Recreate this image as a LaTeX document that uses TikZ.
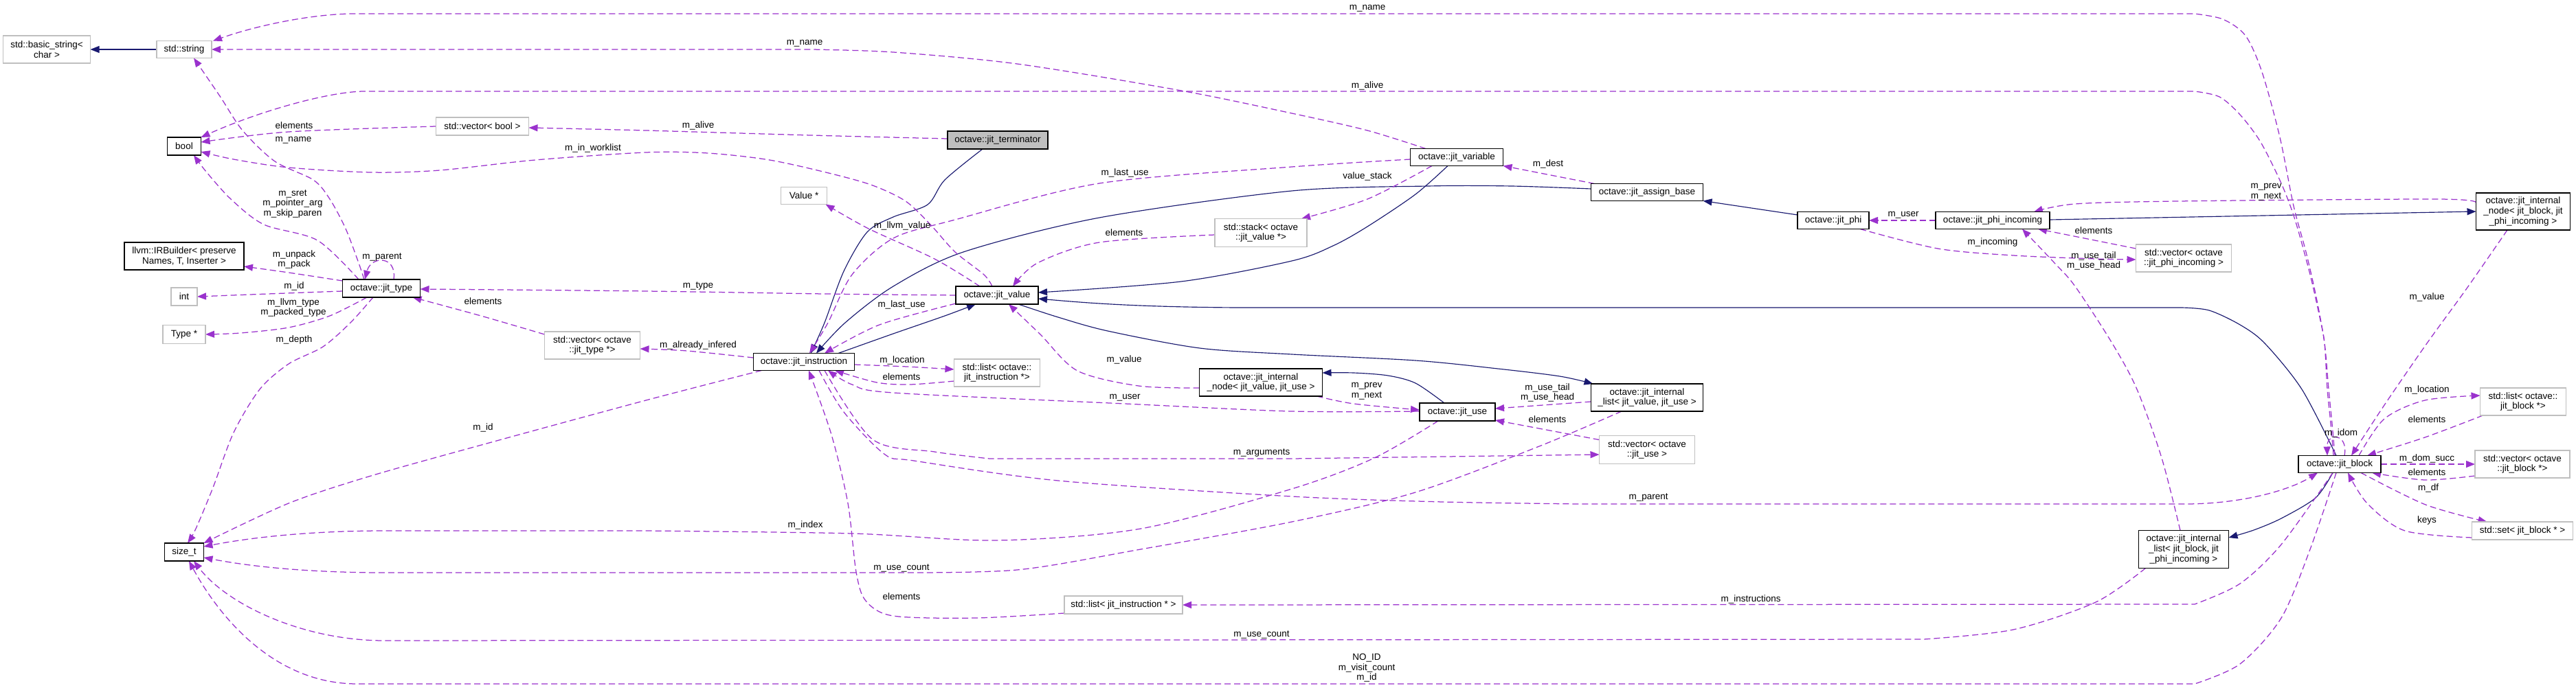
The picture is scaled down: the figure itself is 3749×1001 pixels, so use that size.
\documentclass[tikz,border=0pt]{standalone}
\usepackage{fontspec}
\setmainfont{Liberation Sans}
\usetikzlibrary{arrows.meta,calc}
\definecolor{depc}{HTML}{9A32CD}
\definecolor{inhc}{HTML}{191970}
\definecolor{greyb}{HTML}{BFBFBF}
\pgfdeclarelayer{edgelayer}
\pgfsetlayers{edgelayer,main}
\tikzset{
 every node/.style={font=\fontsize{13.5}{14.6}\selectfont, inner sep=0pt, outer sep=0pt, align=center},
 cls/.style 2 args={draw=black, line width=1.3pt, fill=white, minimum width=#1pt, minimum height=#2pt},
 ext/.style 2 args={draw=greyb, line width=1.3pt, fill=white, minimum width=#1pt, minimum height=#2pt},
 dep/.style={draw=depc, line width=1.25pt, dash pattern=on 9pt off 5pt, -{Triangle[length=13pt,width=10pt]}},
 inh/.style={draw=inhc, line width=1.15pt, -{Triangle[length=13pt,width=10pt]}},
}
\begin{document}
\begin{tikzpicture}[x=1pt,y=-1pt]
\useasboundingbox (0,0) rectangle (3749,1001);
% ---------- nodes ----------
\node[ext={127}{40}] (basicstr) at (68,72) {std::basic\_string<\\char >};
\node[ext={80}{25}] (stdstring) at (268,72) {std::string};
\node[cls={49}{26}] (bool) at (268,213) {bool};
\node[ext={135}{26}] (vecbool) at (702,184) {std::vector< bool >};
\node[cls={174}{40}] (irbuilder) at (268,373) {llvm::IRBuilder< preserve\\Names, T, Inserter >};
\node[ext={38}{26}] (int) at (268,432) {int};
\node[ext={62}{27}] (typeptr) at (268,487) {Type *};
\node[cls={113}{26}] (jittype) at (555,420) {octave::jit\_type};
\node[ext={139}{40}] (vecjittype) at (862,503) {std::vector< octave\\::jit\_type *>};
\node[cls={57}{26}] (sizet) at (268,804) {size\_t};
\node[cls={146}{26}, fill=greyb] (terminator) at (1452,204) {octave::jit\_terminator};
\node[ext={67}{25}] (valueptr) at (1170,285) {Value *};
\node[cls={120}{26}] (jitvalue) at (1451,430) {octave::jit\_value};
\node[ext={134}{41}] (stack) at (1835,339) {std::stack< octave\\::jit\_value *>};
\node[cls={147}{25}] (jitinstr) at (1170,527) {octave::jit\_instruction};
\node[ext={125}{40}] (listoctinstr) at (1451,543) {std::list< octave::\\jit\_instruction *>};
\node[cls={179}{40}] (nodevalue) at (1835,557) {octave::jit\_internal\\\_node< jit\_value, jit\_use >};
\node[ext={172}{26}] (listinstr) at (1635,881) {std::list< jit\_instruction * >};
\node[cls={135}{25}] (jitvariable) at (2120,229) {octave::jit\_variable};
\node[cls={163}{25}] (assignbase) at (2397,280) {octave::jit\_assign\_base};
\node[cls={104}{25}] (jitphi) at (2668,321) {octave::jit\_phi};
\node[cls={166}{25}] (phiincoming) at (2900,321) {octave::jit\_phi\_incoming};
\node[cls={137}{54}] (nodeblock) at (3672,308) {octave::jit\_internal\\\_node< jit\_block, jit\\\_phi\_incoming >};
\node[ext={139}{40}] (vecphi) at (3178,376) {std::vector< octave\\::jit\_phi\_incoming >};
\node[cls={110}{26}] (jituse) at (2121,600) {octave::jit\_use};
\node[cls={163}{40}] (listvalue) at (2397,579) {octave::jit\_internal\\\_list< jit\_value, jit\_use >};
\node[ext={139}{41}] (vecuse) at (2397,655) {std::vector< octave\\::jit\_use >};
\node[cls={120}{25}] (jitblock) at (3405,676) {octave::jit\_block};
\node[cls={131}{55}] (listblock) at (3178,800) {octave::jit\_internal\\\_list< jit\_block, jit\\\_phi\_incoming >};
\node[ext={125}{40}] (listjitblock) at (3672,585) {std::list< octave::\\jit\_block *>};
\node[ext={138}{40}] (vecjitblock) at (3671,676) {std::vector< octave\\::jit\_block *>};
\node[ext={147}{26}] (setjitblock) at (3671,773) {std::set< jit\_block * >};

\begin{pgfonlayer}{edgelayer}
\fill[white] (0,0) rectangle (3749,1001);
% ---------- inheritance ----------
\draw[inh] (stdstring.west) -- (basicstr.east);
\draw[inh] plot[smooth] coordinates {($(terminator.south)+(-22,0)$) (1375,262) (1350,298) (1300,316) (1262,338) (1228,395) (1200,470) ($(jitinstr.north)+(10,0)$)};
\draw[inh] plot[smooth] coordinates {($(jitinstr.north)+(50,0)$) (1300,486) (1375,460) ($(jitvalue.south)+(-31,0)$)};
\draw[inh] plot[smooth] coordinates {($(jitvariable.south)+(-13,0)$) (2060,283) (1990,330) (1940,358) (1880,380) (1719,410) ($(jitvalue.east)+(0,-4)$)};
\draw[inh] plot[smooth] coordinates {($(jitblock.north)+(-5,0)$) (3350,567) (3296,500) (3260,473) (3215,452) (3175,448)} -- (1800,448) .. controls (1650,447) and (1580,441) .. ($(jitvalue.east)+(0,5)$);
\draw[inh] plot[smooth] coordinates {($(assignbase.west)+(0,-5)$) (2200,271) (2078,271) (1880,278) (1600,317) (1402,367) (1300,417) (1230,470) ($(jitinstr.north)+(18,0)$)};
\draw[inh] plot[smooth] coordinates {($(jitblock.south)+(-10,0)$) (3370,725) (3320,755) (3280,772) ($(listblock.east)+(0,-17)$)};
\draw[inh] plot[smooth] coordinates {($(jituse.north)+(-19,0)$) (2060,558) (2020,547) (1970,543) ($(nodevalue.east)+(0,-14)$)};
\draw[inh] plot[smooth] coordinates {($(jitvalue.south)+(31,0)$) (1540,462) (1612,482) (1746,507) (1880,516) (2060,525) (2180,537) (2270,548) ($(listvalue.north west)+(3,0)$)};
\draw[inh] ($(jitphi.west)+(0,-8)$) -- (assignbase.south east);
\draw[inh] ($(phiincoming.east)+(0,-1)$) -- (nodeblock.west);

% ---------- usage ----------
\draw[dep] plot[smooth] coordinates {($(jitblock.north)+(-7,0)$) (3394,617) (3389,567) (3383,500) (3371,433) (3356,367) (3338,300) (3318,200) (3292,105) (3268,52) (3235,28) (3194,20)} -- (516,20) .. controls (460,20) and (380,35) .. ($(stdstring.north east)+(2,0)$);
\draw[dep] plot[smooth] coordinates {($(jitblock.north)+(-9,0)$) (3392,617) (3387,567) (3383,500) (3377,467) (3362,400) (3340,320) (3320,267) (3290,207) (3260,167) (3230,141) (3194,133)} -- (527,133) .. controls (470,135) and (370,165) .. (bool.north east);
\draw[dep] plot[smooth] coordinates {($(jitvariable.north)+(-45,0)$) (1990,190) (1880,165) (1719,132) (1480,93) (1300,76) (1180,72)} -- (stdstring.east);
\draw[dep] plot[smooth] coordinates {($(terminator.west)+(0,-2)$) (1180,197) (940,190) ($(vecbool.east)+(0,2)$)};
\draw[dep] plot[smooth] coordinates {(vecbool.west) (420,192) ($(bool.east)+(0,-6)$)};
\draw[dep] plot[smooth] coordinates {($(jitvalue.north)+(-7,0)$) (1432,400) (1390,367) (1354,327) (1318,293) (1270,270) (1210,253) (1120,233) (1030,223) (940,222) (779,233) (640,248) (540,251) (420,244) (340,232) ($(bool.east)+(0,8)$)};
\draw[dep] plot[smooth] coordinates {($(jittype.north)+(-25,0)$) (522,383) (503,333) (480,290) (456,262) (400,235) (353,190) (320,140) ($(stdstring.south)+(14,0)$)};
\draw[dep] plot[smooth] coordinates {($(jittype.north)+(-33,0)$) (462,350) (384,327) (336,290) (300,250) ($(bool.south)+(14,0)$)};
\draw[dep] ($(jittype.north)+(18,0)$) .. controls (578,372) and (540,372) .. ($(jittype.north)+(-24,0)$);
\draw[dep] plot[smooth] coordinates {($(jittype.west)+(0,-11)$) (420,397) ($(irbuilder.east)+(0,15)$)};
\draw[dep] plot[smooth] coordinates {($(jittype.west)+(0,4)$) (390,428) (int.east)};
\draw[dep] plot[smooth] coordinates {($(jittype.south)+(-21,0)$) (480,460) (420,477) (350,485) (typeptr.east)};
\draw[dep] plot[smooth] coordinates {($(jittype.south)+(-12,0)$) (510,470) (470,505) (420,530) (378,567) (340,630) (310,710) (285,770) ($(sizet.north)+(5,0)$)};
\draw[dep] plot[smooth] coordinates {($(vecjittype.north west)+(0,4)$) (700,460) ($(jittype.south east)+(-11,0)$)};
\draw[dep] plot[smooth] coordinates {(jitvalue.west) (1200,428) (940,424) ($(jittype.east)+(0,1)$)};
\draw[dep] plot[smooth] coordinates {($(jitinstr.west)+(0,-6)$) (1000,511) ($(vecjittype.east)+(0,5)$)};
\draw[dep] plot[smooth] coordinates {($(jitinstr.south west)+(12,0)$) (940,583) (719,643) (540,693) (420,733) (sizet.north east)};
\draw[dep] plot[smooth] coordinates {($(jituse.south)+(-28,0)$) (2000,667) (1880,712) (1660,770) (1450,787) (1240,777) (940,773)} -- (560,773) .. controls (470,773) and (380,780) .. ($(sizet.east)+(0,-8)$);
\draw[dep] plot[smooth] coordinates {($(listvalue.south)+(-37,0)$) (2240,650) (2060,717) (1880,760) (1660,800) (1480,830) (1300,834)} -- (560,834) .. controls (470,834) and (380,828) .. ($(sizet.east)+(0,8)$);
\draw[dep] plot[smooth] coordinates {($(listblock.south west)+(10,0)$) (3050,877) (2930,917) (2800,931)} -- (560,933) .. controls (440,933) and (330,880) .. ($(sizet.south)+(14,0)$);
\draw[dep] plot[smooth] coordinates {($(jitblock.south)+(-5,0)$) (3362,800) (3320,900) (3260,967) (3194,996)} -- (520,996) .. controls (400,996) and (320,900) .. ($(sizet.south)+(7,0)$);
\draw[dep] plot[smooth] coordinates {($(jitinstr.south)+(22,0)$) (1228,600) (1288,662) (1330,671) (1540,700) (1880,723) (2100,731) (2300,734)} -- (3180,734) .. controls (3260,734) and (3330,715) .. ($(jitblock.south west)+(28,0)$);
\draw[dep] plot[smooth] coordinates {($(jitblock.south)+(-10,0)$) (3320,793) (3260,850) (3194,880)} -- (listinstr.east);
\draw[dep] plot[smooth] coordinates {($(listinstr.west)+(0,12)$) (1420,900) (1300,897) (1260,875) (1246,833) (1234,733) (1210,633) ($(jitinstr.south)+(7,0)$)};
\draw[dep] plot[smooth] coordinates {($(jitinstr.east)+(0,4)$) (1320,534) ($(listoctinstr.west)+(0,-5)$)};
\draw[dep] plot[smooth] coordinates {($(listoctinstr.west)+(0,12)$) (1324,560) (1276,557) ($(jitinstr.south)+(45,0)$)};
\draw[dep] plot[smooth] coordinates {($(jituse.west)+(0,-1)$) (1880,599) (1637,588) (1300,572) (1240,560) ($(jitinstr.south)+(35,0)$)};
\draw[dep] plot[smooth] coordinates {($(jitinstr.south)+(30,0)$) (1270,640) (1360,658) (1440,668)} -- (1880,668) -- ($(vecuse.west)+(0,7)$);
\draw[dep] plot[smooth] coordinates {($(nodevalue.west)+(0,8)$) (1657,562) (1568,540) (1514,487) ($(jitvalue.south)+(17,0)$)};
\draw[dep] plot[smooth] coordinates {($(jitvalue.north)+(-25,0)$) (1360,377) (1264,333) ($(valueptr.south east)+(-2,0)$)};
\draw[dep] plot[smooth] coordinates {($(jitvalue.west)+(0,12)$) (1280,473) ($(jitinstr.north)+(30,0)$)};
\draw[dep] plot[smooth] coordinates {($(jitvariable.west)+(0,3)$) (1880,243) (1600,267) (1390,320) (1300,347) (1240,400) (1205,470) ($(jitinstr.north)+(8,0)$)};
\draw[dep] plot[smooth] coordinates {($(jitvariable.south)+(-36,0)$) (1990,290) ($(stack.north east)+(-8,0)$)};
\draw[dep] plot[smooth] coordinates {($(stack.west)+(0,3)$) (1600,353) (1510,383) ($(jitvalue.north)+(23,0)$)};
\draw[dep] ($(assignbase.north west)+(5,0)$) -- (jitvariable.south east);
\draw[dep] (phiincoming.west) -- (jitphi.east);
\draw[dep] plot[smooth] coordinates {($(jitphi.south east)+(-13,0)$) (2820,362) (2930,372) (3050,377) ($(vecphi.west)+(0,2)$)};
\draw[dep] ($(vecphi.west)+(0,-14)$) -- ($(phiincoming.south east)+(-17,0)$);
\draw[dep] plot[smooth] coordinates {($(listblock.north)+(-5,0)$) (3146,667) (3110,567) (3074,500) (3020,417) (2990,383) ($(phiincoming.south)+(43,0)$)};
\draw[dep] plot[smooth] coordinates {($(nodeblock.west)+(0,-13)$) (3547,290) (3170,293) (3020,297) ($(phiincoming.north east)+(-23,0)$)};
\draw[dep] plot[smooth] coordinates {($(nodeblock.south)+(-23,0)$) (3590,420) (3532,500) (3470,590) ($(jitblock.north)+(17,0)$)};
\draw[dep] ($(jitblock.north)+(7,0)$) .. controls (3418,630) and (3386,630) .. ($(jitblock.north)+(-18,0)$);
\draw[dep] plot[smooth] coordinates {($(jitblock.north east)+(-32,0)$) (3470,610) (3529,583) ($(listjitblock.west)+(0,-9)$)};
\draw[dep] plot[smooth] coordinates {($(listjitblock.south west)+(4,0)$) (3529,637) ($(jitblock.north east)+(-20,0)$)};
\draw[dep] (jitblock.east) -- (vecjitblock.west);
\draw[dep] plot[smooth] coordinates {($(vecjitblock.west)+(0,17)$) (3529,699) ($(jitblock.south east)+(-13,0)$)};
\draw[dep] plot[smooth] coordinates {($(jitblock.south east)+(-29,0)$) (3530,735) ($(setjitblock.north west)+(22,0)$)};
\draw[dep] plot[smooth] coordinates {($(setjitblock.west)+(0,10)$) (3500,773) (3445,733) ($(jitblock.south)+(12,0)$)};
\draw[dep] plot[smooth] coordinates {($(nodevalue.south east)+(-8,0)$) (1970,588) ($(jituse.west)+(0,-3)$)};
\draw[dep] ($(listvalue.west)+(0,6)$) -- ($(jituse.east)+(0,-5)$);
\draw[dep] ($(vecuse.north west)+(0,6)$) -- ($(jituse.east)+(0,12)$);
\end{pgfonlayer}

% ---------- labels ----------
\node (l01) at (428,183) {elements};
\node (l02) at (427,204) {m\_name};
\node (l03) at (863,216) {m\_in\_worklist};
\node (l04) at (426,297) {m\_sret\\m\_pointer\_arg\\m\_skip\_paren};
\node (l05) at (428,378) {m\_unpack\\m\_pack};
\node (l06) at (556,375) {m\_parent};
\node (l07) at (428,417) {m\_id};
\node (l08) at (427,448) {m\_llvm\_type\\m\_packed\_type};
\node (l09) at (703,439) {elements};
\node (l10) at (428,495) {m\_depth};
\node (l11) at (1171,63) {m\_name};
\node (l12) at (1990,12) {m\_name};
\node (l13) at (1990,125) {m\_alive};
\node (l14) at (1016,183) {m\_alive};
\node (l15) at (1637,252) {m\_last\_use};
\node (l16) at (1313,329) {m\_llvm\_value};
\node (l17) at (1636,339) {elements};
\node (l18) at (1016,417) {m\_type};
\node (l19) at (1312,444) {m\_last\_use};
\node (l20) at (2253,239) {m\_dest};
\node (l21) at (1990,257) {value\_stack};
\node (l22) at (2770,313) {m\_user};
\node (l23) at (3298,280) {m\_prev\\m\_next};
\node (l24) at (3047,336) {elements};
\node (l25) at (2900,353) {m\_incoming};
\node (l26) at (3047,380) {m\_use\_tail\\m\_use\_head};
\node (l27) at (3532,433) {m\_value};
\node (l28) at (703,623) {m\_id};
\node (l29) at (1016,503) {m\_already\_infered};
\node (l30) at (1313,525) {m\_location};
\node (l31) at (1312,549) {elements};
\node (l32) at (1636,524) {m\_value};
\node (l33) at (1637,579) {m\_user};
\node (l34) at (1836,660) {m\_arguments};
\node (l35) at (1172,765) {m\_index};
\node (l36) at (1312,827) {m\_use\_count};
\node (l37) at (1312,869) {elements};
\node (l38) at (1836,924) {m\_use\_count};
\node (l39) at (1989,570) {m\_prev\\m\_next};
\node (l40) at (2252,572) {m\_use\_tail\\m\_use\_head};
\node (l41) at (2252,611) {elements};
\node (l42) at (2399,725) {m\_parent};
\node (l43) at (2548,873) {m\_instructions};
\node (l44) at (1989,973) {NO\_ID\\m\_visit\_count\\m\_id};
\node (l45) at (3532,568) {m\_location};
\node (l46) at (3532,611) {elements};
\node (l47) at (3407,631) {m\_idom};
\node (l48) at (3532,668) {m\_dom\_succ};
\node (l49) at (3532,688) {elements};
\node (l50) at (3534,711) {m\_df};
\node (l51) at (3532,758) {keys};
\end{tikzpicture}
\end{document}
